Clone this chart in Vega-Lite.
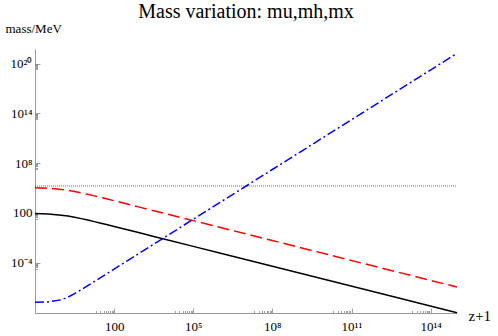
{
  "$schema": "https://vega.github.io/schema/vega-lite/v6.json",
  "width": 422,
  "height": 264,
  "autosize": "none",
  "padding": {"left": 35, "top": 49, "right": 41, "bottom": 23},
  "background": "white",
  "title": {"text": "Mass variation: mu,mh,mx", "font": "Liberation Serif", "fontSize": 20, "fontWeight": "normal", "frame": "group", "anchor": "middle", "baseline": "alphabetic", "offset": 1, "dy": 17, "color": "black"},
  "config": {"view": {"stroke": null}, "axis": {"grid": false}},
  "data": {"values": [
    {"s": "mu", "z": 0.1, "mass": 88.5},
    {"s": "mu", "z": 0.316, "mass": 76.7},
    {"s": "mu", "z": 1, "mass": 54.8},
    {"s": "mu", "z": 1.778, "mass": 42.2},
    {"s": "mu", "z": 3.162, "mass": 30.5},
    {"s": "mu", "z": 5.623, "mass": 21.0},
    {"s": "mu", "z": 10, "mass": 14.0},
    {"s": "mu", "z": 17.78, "mass": 9.14},
    {"s": "mu", "z": 31.62, "mass": 5.87},
    {"s": "mu", "z": 56.23, "mass": 3.75},
    {"s": "mu", "z": 100, "mass": 2.38},
    {"s": "mu", "z": 316.2, "mass": 0.953},
    {"s": "mu", "z": 1000, "mass": 0.380},
    {"s": "mu", "z": 3162, "mass": 0.151},
    {"s": "mu", "z": 10000, "mass": 0.0603},
    {"s": "mu", "z": 100000, "mass": 0.00955},
    {"s": "mu", "z": 1000000, "mass": 0.00151},
    {"s": "mu", "z": 1e8, "mass": 3.80e-5},
    {"s": "mu", "z": 1e10, "mass": 9.55e-7},
    {"s": "mu", "z": 1e12, "mass": 2.40e-8},
    {"s": "mu", "z": 1e15, "mass": 9.55e-11},
    {"s": "mh", "z": 0.1, "mass": 111400},
    {"s": "mh", "z": 0.316, "mass": 96570},
    {"s": "mh", "z": 1, "mass": 69000},
    {"s": "mh", "z": 1.778, "mass": 53100},
    {"s": "mh", "z": 3.162, "mass": 38400},
    {"s": "mh", "z": 5.623, "mass": 26400},
    {"s": "mh", "z": 10, "mass": 17630},
    {"s": "mh", "z": 17.78, "mass": 11510},
    {"s": "mh", "z": 31.62, "mass": 7390},
    {"s": "mh", "z": 56.23, "mass": 4721},
    {"s": "mh", "z": 100, "mass": 2997},
    {"s": "mh", "z": 316.2, "mass": 1200},
    {"s": "mh", "z": 1000, "mass": 478},
    {"s": "mh", "z": 3162, "mass": 190},
    {"s": "mh", "z": 10000, "mass": 75.9},
    {"s": "mh", "z": 100000, "mass": 12.0},
    {"s": "mh", "z": 1000000, "mass": 1.90},
    {"s": "mh", "z": 1e8, "mass": 0.0478},
    {"s": "mh", "z": 1e10, "mass": 0.00120},
    {"s": "mh", "z": 1e12, "mass": 3.02e-5},
    {"s": "mh", "z": 1e15, "mass": 1.20e-7},
    {"s": "mx", "z": 0.1, "mass": 1.754e-9},
    {"s": "mx", "z": 0.316, "mass": 1.910e-9},
    {"s": "mx", "z": 1, "mass": 3.475e-9},
    {"s": "mx", "z": 1.778, "mass": 7.23e-9},
    {"s": "mx", "z": 3.162, "mass": 1.910e-8},
    {"s": "mx", "z": 5.623, "mass": 5.66e-8},
    {"s": "mx", "z": 10, "mass": 1.754e-7},
    {"s": "mx", "z": 17.78, "mass": 5.51e-7},
    {"s": "mx", "z": 31.62, "mass": 1.738e-6},
    {"s": "mx", "z": 56.23, "mass": 5.50e-6},
    {"s": "mx", "z": 100, "mass": 1.738e-5},
    {"s": "mx", "z": 316.2, "mass": 1.738e-4},
    {"s": "mx", "z": 1000, "mass": 1.738e-3},
    {"s": "mx", "z": 3162, "mass": 0.01738},
    {"s": "mx", "z": 10000, "mass": 0.1738},
    {"s": "mx", "z": 100000, "mass": 17.38},
    {"s": "mx", "z": 1000000, "mass": 1738},
    {"s": "mx", "z": 1e8, "mass": 1.738e7},
    {"s": "mx", "z": 1e10, "mass": 1.738e11},
    {"s": "mx", "z": 1e12, "mass": 1.738e15},
    {"s": "mx", "z": 1e15, "mass": 1.738e21},
    {"s": "ref", "z": 0.1, "mass": 178000},
    {"s": "ref", "z": 1e15, "mass": 178000}
  ]},
  "encoding": {
    "x": {"field": "z", "type": "quantitative",
      "scale": {"type": "log", "domain": [0.1, 1e15], "nice": false},
      "axis": {
        "title": "z+1", "titleFont": "Liberation Serif", "titleFontSize": 15, "titleFontWeight": "normal", "titleColor": "black",
        "titleAngle": 0, "titleAlign": "left", "titleBaseline": "middle", "titleX": 433, "titleY": 2,
        "values": [20,30,40,50,60,70,80,90,100,20000,30000,40000,50000,60000,70000,80000,90000,100000,2e7,3e7,4e7,5e7,6e7,7e7,8e7,9e7,1e8,2e10,3e10,4e10,5e10,6e10,7e10,8e10,9e10,1e11,2e13,3e13,4e13,5e13,6e13,7e13,8e13,9e13,1e14],
        "labelExpr": "datum.value == 100 ? '100' : datum.value == 100000 ? '10⁵' : datum.value == 1e8 ? '10⁸' : datum.value == 1e11 ? '10¹¹' : datum.value == 1e14 ? '10¹⁴' : ''",
        "labelFont": "Liberation Serif", "labelFontSize": 13, "labelColor": "black", "labelOverlap": false, "labelFlush": false,
        "labelPadding": 12, "labelBaseline": "top",
        "domainColor": "#999999", "domainWidth": 1,
        "tickColor": "#888888", "tickWidth": 0.8,
        "tickSize": {"condition": {"test": "datum.value == 100 || datum.value == 100000 || datum.value == 1e8 || datum.value == 1e11 || datum.value == 1e14", "value": -5}, "value": -2.5}
      }
    },
    "y": {"field": "mass", "type": "quantitative",
      "scale": {"type": "log", "domain": [8.91e-11, 5.75e21], "nice": false},
      "axis": {
        "title": "mass/MeV", "titleFont": "Liberation Serif", "titleFontSize": 13, "titleFontWeight": "normal", "titleColor": "black",
        "titleAngle": 0, "titleAlign": "left", "titleBaseline": "alphabetic", "titleX": -30, "titleY": -17,
        "values": [2e-5,3e-5,4e-5,5e-5,6e-5,7e-5,8e-5,9e-5,0.0001,20,30,40,50,60,70,80,90,100,2e7,3e7,4e7,5e7,6e7,7e7,8e7,9e7,1e8,2e13,3e13,4e13,5e13,6e13,7e13,8e13,9e13,1e14,2e19,3e19,4e19,5e19,6e19,7e19,8e19,9e19,1e20],
        "labelExpr": "datum.value == 0.0001 ? '10⁻⁴' : datum.value == 100 ? '100' : datum.value == 1e8 ? '10⁸' : datum.value == 1e14 ? '10¹⁴' : datum.value == 1e20 ? '10²⁰' : ''",
        "labelFont": "Liberation Serif", "labelFontSize": 13, "labelColor": "black", "labelOverlap": false, "labelFlush": false,
        "labelPadding": 8,
        "domainColor": "#999999", "domainWidth": 1,
        "tickColor": "#888888", "tickWidth": 0.8,
        "tickSize": {"condition": {"test": "datum.value == 0.0001 || datum.value == 100 || datum.value == 1e8 || datum.value == 1e14 || datum.value == 1e20", "value": -5}, "value": -2.5}
      }
    }
  },
  "layer": [
    {"transform": [{"filter": "datum.s == 'ref'"}], "mark": {"type": "line", "color": "#333333", "strokeWidth": 0.7, "strokeDash": [1, 1]}},
    {"transform": [{"filter": "datum.s == 'mu'"}], "mark": {"type": "line", "color": "black", "strokeWidth": 1.5}},
    {"transform": [{"filter": "datum.s == 'mh'"}], "mark": {"type": "line", "color": "#ff0000", "strokeWidth": 1.5, "strokeDash": [12, 5]}},
    {"transform": [{"filter": "datum.s == 'mx'"}], "mark": {"type": "line", "color": "#0000ff", "strokeWidth": 1.5, "strokeDash": [9, 3, 2, 3]}}
  ]
}
